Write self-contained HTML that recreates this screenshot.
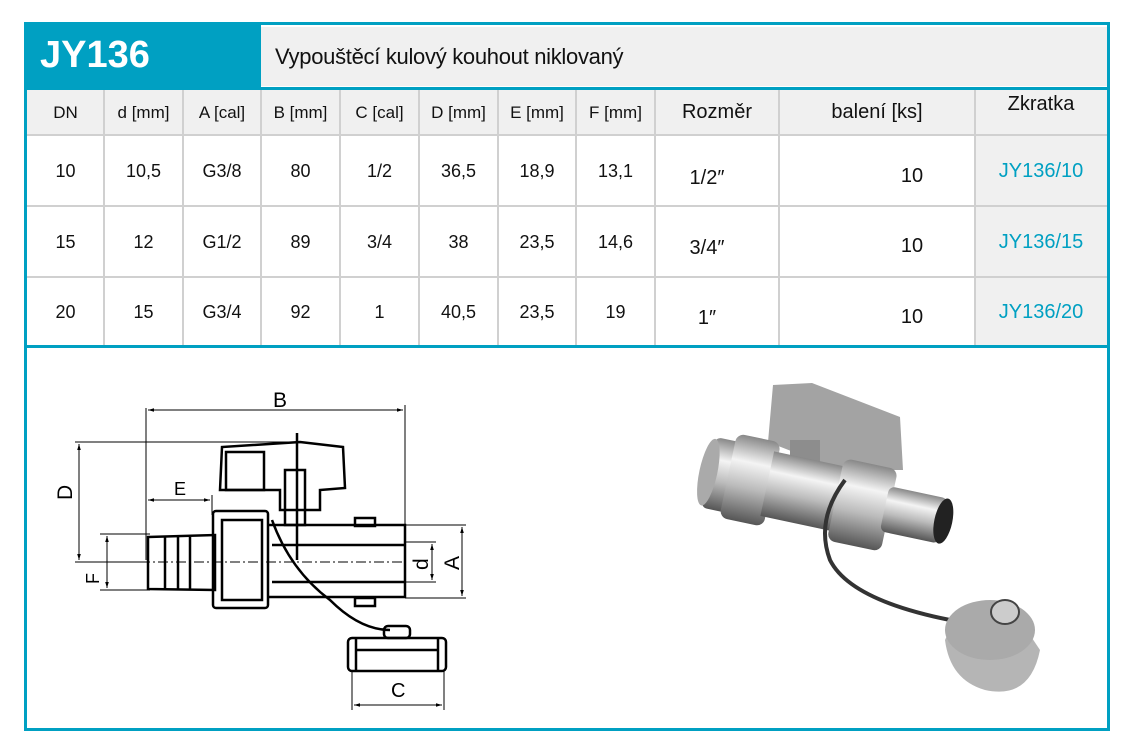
<!DOCTYPE html>
<html><head><meta charset="utf-8"><style>
body{margin:0;background:#fff;width:1132px;height:754px;position:relative;font-family:"Liberation Sans",sans-serif;overflow:hidden}
.frame{position:absolute;left:24px;top:22px;width:1080px;height:703px;border:3px solid #00a0c2}
.hdr{position:absolute;left:24px;top:22px;width:237px;height:66px;background:#00a0c2}
.hdr span{position:absolute;left:16px;top:12px;color:#fff;font-weight:bold;font-size:38px;font-family:"Liberation Sans",sans-serif}
.title{position:absolute;left:261px;top:27px;width:846px;height:59px;background:#f0f0f0;font-size:22px;line-height:59px;padding-left:14px;box-sizing:border-box;color:#111;letter-spacing:-0.3px}
.tline{position:absolute;left:24px;width:1086px;height:3px;background:#00a0c2}
.cell{position:absolute;box-sizing:border-box;text-align:center;font-size:18px;color:#111;display:flex;align-items:center;justify-content:center}
.g{background:#f0f0f0}
.vl{position:absolute;width:2px;background:#d0d0d0}
.hl{position:absolute;height:2px;background:#d0d0d0}
.b{color:#00a0c2}
</style></head><body>
<div class="frame"></div>
<div class="hdr"><span>JY136</span></div>
<div class="title">Vypouštěcí kulový kouhout niklovaný</div>
<div class="tline" style="top:87px"></div>
<div class="cell g" style="left:27px;top:90px;width:1080px;height:45px"></div>
<div class="cell g" style="left:975px;top:135px;width:132px;height:211px"></div>
<div class="hl" style="left:27px;top:134px;width:1080px"></div>
<div class="hl" style="left:27px;top:205px;width:1080px"></div>
<div class="hl" style="left:27px;top:276px;width:1080px"></div>
<div class="vl" style="left:103px;top:90px;height:256px"></div>
<div class="vl" style="left:182px;top:90px;height:256px"></div>
<div class="vl" style="left:260px;top:90px;height:256px"></div>
<div class="vl" style="left:339px;top:90px;height:256px"></div>
<div class="vl" style="left:418px;top:90px;height:256px"></div>
<div class="vl" style="left:497px;top:90px;height:256px"></div>
<div class="vl" style="left:575px;top:90px;height:256px"></div>
<div class="vl" style="left:654px;top:90px;height:256px"></div>
<div class="vl" style="left:778px;top:90px;height:256px"></div>
<div class="vl" style="left:974px;top:90px;height:256px"></div>
<div class="tline" style="top:345px"></div>

<div class="cell" style="left:27px;top:90px;width:77px;height:45px;font-size:17px">DN</div>
<div class="cell" style="left:104px;top:90px;width:79px;height:45px;font-size:17px">d [mm]</div>
<div class="cell" style="left:183px;top:90px;width:78px;height:45px;font-size:17px">A [cal]</div>
<div class="cell" style="left:261px;top:90px;width:79px;height:45px;font-size:17px">B [mm]</div>
<div class="cell" style="left:340px;top:90px;width:79px;height:45px;font-size:17px">C [cal]</div>
<div class="cell" style="left:419px;top:90px;width:79px;height:45px;font-size:17px">D [mm]</div>
<div class="cell" style="left:498px;top:90px;width:78px;height:45px;font-size:17px">E [mm]</div>
<div class="cell" style="left:576px;top:90px;width:79px;height:45px;font-size:17px">F [mm]</div>
<div class="cell" style="left:655px;top:90px;width:124px;height:45px;font-size:20px">Rozměr</div>
<div class="cell" style="left:779px;top:90px;width:196px;height:45px;font-size:20px">balení [ks]</div>
<div class="cell" style="left:975px;top:82px;width:132px;height:45px;font-size:20px">Zkratka</div>

<div class="cell" style="left:27px;top:136px;width:77px;height:70px">10</div>
<div class="cell" style="left:104px;top:136px;width:79px;height:70px">10,5</div>
<div class="cell" style="left:183px;top:136px;width:78px;height:70px">G3/8</div>
<div class="cell" style="left:261px;top:136px;width:79px;height:70px">80</div>
<div class="cell" style="left:340px;top:136px;width:79px;height:70px">1/2</div>
<div class="cell" style="left:419px;top:136px;width:79px;height:70px">36,5</div>
<div class="cell" style="left:498px;top:136px;width:78px;height:70px">18,9</div>
<div class="cell" style="left:576px;top:136px;width:79px;height:70px">13,1</div>
<div class="cell" style="left:655px;top:143px;width:104px;height:70px;font-size:20px">1/2″</div>
<div class="cell" style="left:779px;top:141px;width:266px;height:70px;font-size:20px">10</div>
<div class="cell b" style="left:975px;top:136px;width:132px;height:70px;font-size:20px">JY136/10</div>

<div class="cell" style="left:27px;top:207px;width:77px;height:70px">15</div>
<div class="cell" style="left:104px;top:207px;width:79px;height:70px">12</div>
<div class="cell" style="left:183px;top:207px;width:78px;height:70px">G1/2</div>
<div class="cell" style="left:261px;top:207px;width:79px;height:70px">89</div>
<div class="cell" style="left:340px;top:207px;width:79px;height:70px">3/4</div>
<div class="cell" style="left:419px;top:207px;width:79px;height:70px">38</div>
<div class="cell" style="left:498px;top:207px;width:78px;height:70px">23,5</div>
<div class="cell" style="left:576px;top:207px;width:79px;height:70px">14,6</div>
<div class="cell" style="left:655px;top:213px;width:104px;height:70px;font-size:20px">3/4″</div>
<div class="cell" style="left:779px;top:211px;width:266px;height:70px;font-size:20px">10</div>
<div class="cell b" style="left:975px;top:207px;width:132px;height:70px;font-size:20px">JY136/15</div>

<div class="cell" style="left:27px;top:278px;width:77px;height:68px">20</div>
<div class="cell" style="left:104px;top:278px;width:79px;height:68px">15</div>
<div class="cell" style="left:183px;top:278px;width:78px;height:68px">G3/4</div>
<div class="cell" style="left:261px;top:278px;width:79px;height:68px">92</div>
<div class="cell" style="left:340px;top:278px;width:79px;height:68px">1</div>
<div class="cell" style="left:419px;top:278px;width:79px;height:68px">40,5</div>
<div class="cell" style="left:498px;top:278px;width:78px;height:68px">23,5</div>
<div class="cell" style="left:576px;top:278px;width:79px;height:68px">19</div>
<div class="cell" style="left:655px;top:284px;width:104px;height:68px;font-size:20px">1″</div>
<div class="cell" style="left:779px;top:283px;width:266px;height:68px;font-size:20px">10</div>
<div class="cell b" style="left:975px;top:278px;width:132px;height:68px;font-size:20px">JY136/20</div>

<svg style="position:absolute;left:0;top:0" width="1132" height="754" viewBox="0 0 1132 754">
<defs>
<marker id="a" viewBox="0 0 10 10" refX="10" refY="5" markerWidth="6" markerHeight="6" orient="auto-start-reverse"><path d="M0,2L10,5L0,8z" fill="#000"/></marker>
<linearGradient id="m" x1="0" y1="0" x2="0" y2="1"><stop offset="0" stop-color="#888"/><stop offset="0.3" stop-color="#f4f4f4"/><stop offset="0.6" stop-color="#bbb"/><stop offset="1" stop-color="#555"/></linearGradient>
</defs>
<g stroke="#000" fill="none" stroke-width="1" font-family="Liberation Sans,sans-serif">
<line x1="146" y1="408" x2="146" y2="560"/><line x1="405" y1="405" x2="405" y2="525"/>
<line x1="148" y1="410" x2="403" y2="410" marker-start="url(#a)" marker-end="url(#a)"/>
<text x="273" y="407" font-size="21" fill="#000" stroke="none">B</text>
<line x1="75" y1="442" x2="290" y2="442"/><line x1="75" y1="562" x2="146" y2="562"/>
<line x1="79" y1="444" x2="79" y2="560" marker-start="url(#a)" marker-end="url(#a)"/>
<text x="0" y="0" font-size="21" fill="#000" stroke="none" transform="translate(72,500) rotate(-90)">D</text>
<line x1="212" y1="495" x2="212" y2="515"/>
<line x1="148" y1="500" x2="210" y2="500" marker-start="url(#a)" marker-end="url(#a)"/>
<text x="174" y="495" font-size="18" fill="#000" stroke="none">E</text>
<line x1="100" y1="534" x2="150" y2="534"/><line x1="100" y1="590" x2="150" y2="590"/>
<line x1="107" y1="536" x2="107" y2="588" marker-start="url(#a)" marker-end="url(#a)"/>
<text x="0" y="0" font-size="18" fill="#000" stroke="none" transform="translate(99,584) rotate(-90)">F</text>
<line x1="405" y1="525" x2="466" y2="525"/><line x1="405" y1="598" x2="466" y2="598"/>
<line x1="462" y1="527" x2="462" y2="596" marker-start="url(#a)" marker-end="url(#a)"/>
<text x="0" y="0" font-size="21" fill="#000" stroke="none" transform="translate(459,570) rotate(-90)">A</text>
<line x1="405" y1="542" x2="436" y2="542"/><line x1="405" y1="582" x2="436" y2="582"/>
<line x1="432" y1="544" x2="432" y2="580" marker-start="url(#a)" marker-end="url(#a)"/>
<text x="0" y="0" font-size="21" fill="#000" stroke="none" transform="translate(428,570) rotate(-90)">d</text>
<line x1="352" y1="670" x2="352" y2="710"/><line x1="444" y1="670" x2="444" y2="710"/>
<line x1="354" y1="705" x2="442" y2="705" marker-start="url(#a)" marker-end="url(#a)"/>
<text x="391" y="697" font-size="20" fill="#000" stroke="none">C</text>
<line x1="140" y1="562" x2="405" y2="562" stroke-dasharray="10,3,2,3"/>
<g stroke-width="2.5">
<path d="M148,537 L215,535 L215,590 L148,589 Z"/>
<line x1="165" y1="537" x2="165" y2="589"/><line x1="178" y1="537" x2="178" y2="589"/><line x1="190" y1="537" x2="190" y2="589"/>
<rect x="213" y="511" width="55" height="97" rx="3"/>
<rect x="222" y="520" width="40" height="80"/>
<path d="M268,525 L405,525 L405,597 L268,597"/>
<line x1="272" y1="545" x2="405" y2="545"/><line x1="272" y1="582" x2="405" y2="582"/>
<path d="M220,490 L222,447 L300,442 L343,447 L345,488 L320,490 L320,510 L280,510 L280,490 Z"/>
<rect x="226" y="452" width="38" height="38"/>
<rect x="285" y="470" width="20" height="55"/>
<line x1="297" y1="433" x2="297" y2="560"/>
<rect x="355" y="518" width="20" height="8"/><rect x="355" y="598" width="20" height="8"/>
<path d="M272,520 Q290,570 330,600 Q360,630 390,630"/>
<rect x="348" y="638" width="98" height="33" rx="4"/>
<line x1="356" y1="638" x2="356" y2="671"/><line x1="438" y1="638" x2="438" y2="671"/>
<line x1="356" y1="650" x2="438" y2="650"/>
<rect x="384" y="626" width="26" height="12" rx="4"/>
</g>
</g>
<g>
<path d="M773,385 L812,383 L900,417 L903,470 L865,470 L850,476 L845,472 L768,442 Z" fill="#a3a3a3"/>
<rect x="790" y="440" width="30" height="45" fill="#8d8d8d"/>
<g transform="rotate(12 820 500)">
<rect x="705" y="460" width="40" height="72" rx="6" fill="url(#m)"/>
<rect x="725" y="452" width="45" height="86" rx="8" fill="url(#m)"/>
<rect x="765" y="462" width="85" height="66" fill="url(#m)"/>
<rect x="835" y="454" width="55" height="84" rx="8" fill="url(#m)"/>
<rect x="885" y="472" width="60" height="46" rx="6" fill="url(#m)"/>
<ellipse cx="945" cy="495" rx="9" ry="23" fill="#222"/>
<ellipse cx="705" cy="496" rx="9" ry="34" fill="#aaa"/>
</g>
<path d="M845,480 Q815,520 830,560 Q850,600 950,620 Q975,625 995,612" stroke="#333" stroke-width="4" fill="none"/>
<path d="M945,640 Q960,605 1020,620 L1040,650 Q1030,700 985,690 Q950,680 945,640 Z" fill="#b5b5b5"/>
<ellipse cx="990" cy="630" rx="45" ry="30" fill="#aaa"/>
<ellipse cx="1005" cy="612" rx="14" ry="12" fill="#ccc" stroke="#444" stroke-width="2"/>
</g>
</svg>
</body></html>
